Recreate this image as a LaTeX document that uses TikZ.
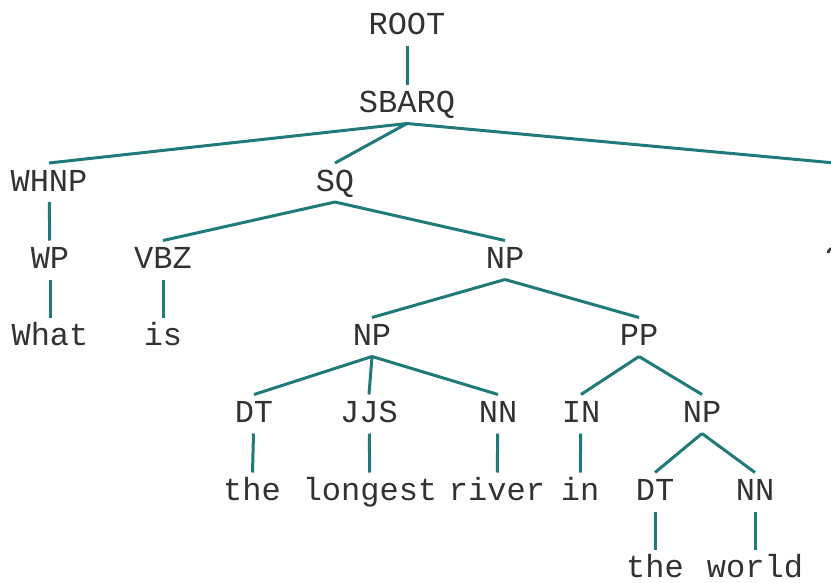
\documentclass[tikz,border=0pt]{standalone}
\usepackage{fontspec}
\setmonofont{Liberation Mono}
\definecolor{edgeteal}{RGB}{32,122,122}
\definecolor{labelgray}{RGB}{50,50,50}
\begin{document}
\begin{tikzpicture}[x=1pt,y=-1pt,
  lbl/.style={font=\ttfamily\fontsize{32}{32}\selectfont, text=labelgray,
    text height=19pt, text depth=2pt, inner xsep=0pt, inner ysep=9pt, outer sep=0pt},
  tedge/.style={draw=edgeteal, line width=3pt}]
\useasboundingbox (0,0) rectangle (831,582);
\clip (0,0) rectangle (831,582);
% row 1-2
\node[lbl] (root) at (407,26) {ROOT};
\node[lbl] (sbarq) at (407,104) {SBARQ};
% row 3
\node[lbl] (whnp) at (49,182.5) {WHNP};
\node[lbl] (sq) at (335,182.5) {SQ};
\node[lbl] (punct) at (835,182.5) {.};
% row 4
\node[lbl] (wp) at (50,260) {WP};
\node[lbl] (vbz) at (163,260) {VBZ};
\node[lbl] (np1) at (505,260) {NP};
\node[lbl] (qm) at (835,260) {?};
% row 5
\node[lbl] (what) at (50,337) {What};
\node[lbl] (is) at (163,337) {is};
\node[lbl] (np2) at (372,337) {NP};
\node[lbl] (pp) at (639,337) {PP};
% row 6
\node[lbl] (dt1) at (254,414) {DT};
\node[lbl] (jjs) at (369,414) {JJS};
\node[lbl] (nn1) at (498,414) {NN};
\node[lbl] (in) at (581,414) {IN};
\node[lbl] (np3) at (702,414) {NP};
% row 7
\node[lbl] (the1) at (252,492) {the};
\node[lbl] (longest) at (370,492) {longest};
\node[lbl] (river) at (497,492) {river};
\node[lbl] (inw) at (580,492) {in};
\node[lbl] (dt2) at (655,492) {DT};
\node[lbl] (nn2) at (755,492) {NN};
% row 8
\node[lbl] (the2) at (655,569) {the};
\node[lbl] (world) at (755,569) {world};
% edges
\draw[tedge] (root) -- (sbarq);
\draw[tedge] (sbarq.south) -- (whnp.north);
\draw[tedge] (sbarq.south) -- (sq.north);
\draw[tedge] (sbarq.south) -- (punct.north);
\draw[tedge] (whnp) -- (wp);
\draw[tedge] (punct) -- (qm);
\draw[tedge] (sq.south) -- (vbz.north);
\draw[tedge] (sq.south) -- (np1.north);
\draw[tedge] (wp) -- (what);
\draw[tedge] (vbz) -- (is);
\draw[tedge] (np1.south) -- (np2.north);
\draw[tedge] (np1.south) -- (pp.north);
\draw[tedge] (np2.south) -- (dt1.north);
\draw[tedge] (np2.south) -- (jjs.north);
\draw[tedge] (np2.south) -- (nn1.north);
\draw[tedge] (pp.south) -- (in.north);
\draw[tedge] (pp.south) -- (np3.north);
\draw[tedge] (dt1) -- (the1);
\draw[tedge] (jjs) -- (longest);
\draw[tedge] (nn1) -- (river);
\draw[tedge] (in) -- (inw);
\draw[tedge] (np3.south) -- (dt2.north);
\draw[tedge] (np3.south) -- (nn2.north);
\draw[tedge] (dt2) -- (the2);
\draw[tedge] (nn2) -- (world);
\end{tikzpicture}
\end{document}
